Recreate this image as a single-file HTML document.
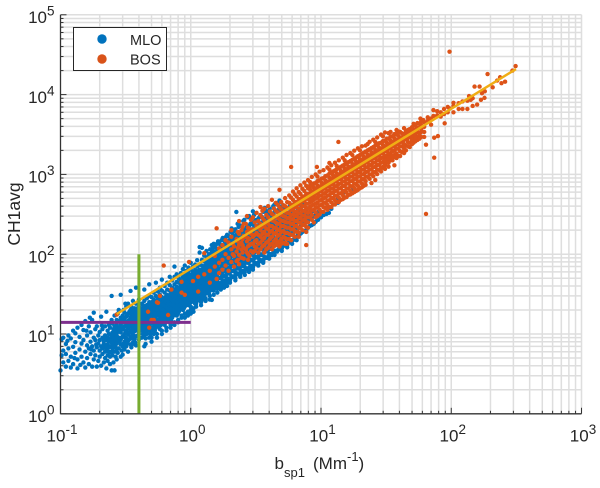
<!DOCTYPE html>
<html>
<head>
<meta charset="utf-8">
<title>CH1avg vs bsp1</title>
<style>
html,body{margin:0;padding:0;background:#fff;width:600px;height:488px;overflow:hidden}
svg{display:block}
text{font-family:"Liberation Sans",sans-serif;fill:#262626}
</style>
</head>
<body>
<svg id="chart" xmlns="http://www.w3.org/2000/svg" width="600" height="488" viewBox="0 0 600 488"></svg>
<script>
const xDecades = [-1, 0, 1, 2, 3];
const yDecades = [0, 1, 2, 3, 4, 5];
const xTickExponents = ["-1", "0", "1", "2", "3"];
const yTickExponents = ["0", "1", "2", "3", "4", "5"];
const fitX = [0.27, 314];
const fitY = [17.8, 20900];
const thresholdX = [0.4, 0.4];
const thresholdXSpan = [1, 100];
const thresholdY = [14, 14];
const thresholdYSpan = [0.1, 1];
const mloRows = [
[0.10,3.5],[0.102,5.4,8.6],[0.105,4.4,6.2,9],[0.11,3.9,5.6,7.5],[0.115,4.6,9.6,6.6],[0.12,5.2,3.8,8.8],[0.125,4.2,6.9,11],[0.13,5.8,10.2,7.9],[0.135,3.7,4.8,12],[0.14,6.4,9.2],[0.145,5.2,7.6,13],[0.15,4.4,8.4,11.2],[0.155,6,3.8,14.5],[0.16,5,7.2,9.6],[0.165,4.2,12.5,6.6],[0.168,16],[0.17,5.6,8,10.5],[0.175,3.9,7,15],[0.18,4.8,6.2,9,18.5],[0.185,5.4,8.4,11.5],[0.19,3.9,6.8,12.5],[0.195,4.6,7.6,9.6],[0.2,5.2,6.2,8.4,10.6],[0.205,4,7,16.5],[0.21,5.6,6.6,9,11.5],[0.215,4.4,7.6,8.2],[0.22,5,6,7,9.6,12.5],[0.225,3.7,6.4,8.4,19],[0.23,4.6,5.4,7.4,9,11],[0.235,6,6.8,8,10,13],[0.24,4.2,5.2,7,8.6,12],[0.247,3.5,6,7.8,9.4,15,30],[0.25,5.4,6.6,8.4,10.4,13.5],[0.255,4.4,7.2,9,11.5],[0.26,3.5,6,8,10,12.5,17],[0.265,5.2,6.8,8.8,11],[0.27,4.8,7.6,9.6,13,15],[0.275,5.8,8.2,10.6,18],[0.28,6.6,9,12,14.5,20],[0.29,5.2,7.4,8.6,10.5,13,16,31],[0.30,5.5,7,9.4,11.5,14,17],[0.31,6.4,8,10,12.5,15.5,18.5],[0.32,7,8.8,10.8,13.5,16.5,22],[0.33,6,8.2,9.8,11.8,14.5,18,24],[0.345,7.4,9.2,11,13,16,20,34.6],[0.35,6.8,8.8,10.5,12.5,15,17.5,22],[0.36,7.8,9.8,11.8,14,16.5,19,26],[0.37,8.6,10.8,13,15.5,18,21],[0.38,7.2,9.4,11.5,14,17,20,24,38],
[0.40,8.5,10,12,14,16.5,19,22,27],[0.42,9,11,13,15,17.5,20.5,24],[0.44,7,9.5,11.5,13.5,16,19,22,26,36],[0.46,10,12,14.5,17,20,23,28],[0.48,9,11,13,15.5,18,21,25,30,42],[0.50,11,13.5,16,18.5,21.5,25,29],[0.52,10,12,14.5,17,20,23,27,33],[0.54,12,14,16.5,19,22,26,30,44],[0.56,13,15,18,21,24,28,34],[0.58,11.5,14,16.5,19.5,23,27,31,38],[0.60,14,16,19,22,25,29,35,48],[0.63,13,15.5,18,21,24.5,28,33,40],[0.66,15,17,20,23,27,31,36,44],[0.69,14,17,19.5,22.5,26,30,35,41,52],[0.72,16,19,22,25,29,33,38,47],[0.75,18,21,24,27,31,36,42,52,70],[0.78,17,20,23,26,30,34,39,45,56],[0.81,19,22,25,29,33,38,44,50],[0.84,21,24,27,31,36,41,47,58],[0.87,20,23,26,30,34,39,45,52,65],[0.90,22,25,29,33,38,43,49,57,72],[0.93,24,27,31,35,40,46,53,62],[0.96,23,26,30,34,39,44,50,58,68],[1.0,25,29,33,37,42,48,55,64,78],[1.04,27,31,35,40,46,52,60,70],
[1.08,24,28,32,37,42,48,55,63,74],[1.12,26,30,35,40,46,52,60,70,84],[1.17,28,33,38,43,49,56,64,74,105,123],[1.22,27,32,37,42,48,55,62,72,85,120],[1.27,31,36,41,47,54,61,70,81,96],[1.32,33,38,44,50,57,65,74,86,110],[1.38,32,37,43,50,57,65,74,85,100],[1.45,26.7,39,45,52,60,68,78,90,105,130],[1.5,41,48,55,63,72,82,94,108,135],[1.56,38,45,52,60,68,78,89,102,120],[1.62,44,51,59,67,77,88,100,115,145],[1.69,42,50,58,66,76,86,98,112,130],[1.76,47,55,63,72,83,94,107,122,160],[1.83,45,53,62,71,81,92,105,120,140],[1.9,50,58,67,77,88,100,114,130,175],[1.98,48,57,66,76,87,99,113,128,150],[2.06,53,62,72,83,95,108,123,140,165,210],[2.15,52,61,71,82,94,107,122,138,158,195],[2.24,58,68,79,91,104,118,134,152,175,338],[2.33,56,66,77,90,103,117,133,150,172,220],[2.43,62,73,85,98,112,128,145,165,190],[2.53,60,71,83,97,112,128,146,166,195,260],[2.64,67,79,92,107,123,140,160,182,210],[2.75,65,78,91,106,122,140,160,183,215,290],[2.87,72,85,100,116,134,153,175,200,240],[3.0,70,83,98,115,133,153,175,200,235,345],[3.13,78,93,109,127,147,168,192,220,265],[3.27,76,90,107,125,145,168,192,222,260],[3.4,85,100,118,138,160,183,210,245,300],[3.55,82,98,116,136,158,182,210,245,290],[3.7,92,110,130,152,176,203,235,275,380],[3.87,90,108,128,150,175,202,235,275,330],[4.04,100,120,142,167,194,225,260,300,370],[4.2,98,118,140,165,192,223,260,305],[4.4,110,132,156,183,213,248,288,340,420],[4.6,108,130,155,182,212,247,288,345],[4.8,120,145,172,202,236,275,320,380,470],[5.0,118,143,170,200,235,274,320,385],[5.25,132,160,190,223,260,305,355],[5.5,130,158,188,222,260,305],[5.8,145,175,208,245,288,340,420],[6.1,150,185,222,262,310,370],[6.4,165,200,240,285,335],[6.8,175,215,258,305,365,480],[7.2,190,232,280,330],[7.7,200,250,300,360],[8.2,225,275,330],[8.8,240,300],[9.5,270,340],[10.5,310],[11.5,330],[12.5,420],[14.8,585],[17.6,650]
];
const mloExtraRows = [
[0.113,8.2],[0.128,5],[0.142,4.1],[0.158,11],[0.172,6.4],[0.188,7.4],[0.208,12.8],[0.222,8.9],[0.238,5.9],[0.252,7.6],[0.268,6.2,11.6],[0.285,8,11.2,12],[0.295,6.2,9,15],[0.305,7.6,12,20],[0.315,9,11,14.5,24],[0.325,7.6,10.4,13,17],[0.338,8.6,10.4,12.4,15,19],[0.355,7.4,9.4,11.2,13.5,16,21],[0.375,7.8,9.2,12,14.5,17,19.5],[0.39,9.5,11,13,15.5,18,21],
[0.41,9,11,13,15.5,18,21],[0.43,10,12,14,16.5,19,23],[0.45,8.8,10.6,12.6,15,17.5,20.5],[0.47,11,13,15.5,18.5,22],[0.49,10,12,14,16.5,19.5,23],[0.51,12,14.5,17,20,23],[0.53,11,13,15.5,18,21,25],[0.55,13,15,17.5,20.5,24],[0.57,12.5,15,18,20,23.5,26],[0.59,13,15,17.5,20.5,24,28],[0.615,15,17,20,23,27],[0.645,14,16.5,19,22,25.5,29.5],[0.675,16,18.5,21,24.5,28.5],[0.705,15,18,20.5,24,27.5,32],[0.735,17,20,23,26,30],[0.765,19,22,25.5,29,33],[0.795,18,21,24,28,32,36],[0.825,20,23,26.5,30,34.5],[0.855,22,25,29,33,38],[0.885,21,24,27.5,32,36,41],[0.915,23,26,30,34,39,45],[0.945,25,28,32,37,42],[0.98,24,27,31,35,40,46,52],[1.02,26,30,34,38,44,50],[1.06,25,29,33,38,44,50,58],[1.1,27,31,36,42,47,54],[1.145,27,32,36,41,47,54,62],[1.195,29,34,39,45,52,59],[1.245,29,34,39,45,51,58,66],[1.295,32,37,42,48,55,63,72,83],[1.35,34,40,46,53,61,69,79,92],[1.41,35,41,48,55,62,72,82,95,115],[1.475,38,44,51,58,66,76,86,98,120],[1.53,40,46,53,61,70,80,92,105,128],[1.59,40,47,55,63,72,83,94,108,135],[1.655,43,50,58,66,76,87,99,114,140],[1.725,44,52,60,69,79,90,102,118,150],[1.795,46,54,62,72,82,94,107,124,155],[1.865,47,55,64,74,85,96,110,126,165],[1.94,49,58,67,77,88,100,114,132,170],[2.02,50,60,70,80,92,105,120,136,160,190],[2.1,52,62,72,83,96,110,126,144,175],[2.2,55,65,75,87,100,113,128,146,170,205],[2.29,56,66,78,90,103,118,134,152,180,240],[2.38,58,68,80,93,107,122,140,158,185,230],[2.48,62,74,86,100,115,130,150,172,200],[2.58,62,74,87,102,118,135,153,175,205,270],[2.7,66,79,92,107,124,142,162,186,220],[2.81,68,81,96,112,128,147,168,193,228,300],[2.93,70,85,100,118,136,156,178,204,245],[3.06,74,88,104,122,140,160,184,212,250,310],[3.2,76,92,108,126,146,170,196,226,270],[3.33,80,96,112,132,153,176,202,232,285],[3.47,82,98,116,138,160,185,212,248,300],[3.62,86,104,124,145,168,194,224,262,340],[3.78,90,110,130,152,178,206,240,280,350],[3.95,95,114,136,160,186,215,248,288],[4.12,100,122,146,172,200,232,268,310],[4.3,104,125,148,175,204,236,275,322,400],[4.5,110,132,158,186,218,254,296,350],[4.7,114,138,164,194,226,262,305,360,440],[4.9,122,148,176,208,244,285,335,395],[5.12,126,152,180,212,248,290,340,410],[5.37,135,165,195,230,270,315,370],[5.65,140,170,200,236,278,325,385],[5.95,150,182,216,255,300,355],[6.25,158,192,230,272,322],[6.6,170,208,250,295,350,430],[7.0,182,225,270,318,380],[7.45,195,240,290,345,420],[7.95,215,262,315,375],[8.5,232,285,340],[9.1,255,310],[10,290],[11,320,385],[12,370],[13.5,440,500]
];
const mloLowerEdgeRows = [
[0.45,7.5],[0.5,9,8],[0.55,10,9],[0.6,11,10],[0.65,12,11],[0.7,12,13],[0.75,14,13],[0.8,15,14],[0.85,16,17],[0.9,18,16],[0.95,19,17],[1,20,18,22],[1.05,21,19],[1.1,22,24],[1.2,23,25],[1.3,26,28],[1.4,27,30],[1.5,31,35],[1.6,33,37],[1.7,36,39],[1.8,38,42],[1.9,40,44],[2,44,47],[2.2,47,50],[2.4,52,56],[2.6,55,60],[2.8,60,64],[3,64,68],[3.3,72],[3.6,78,82],[4,88,94],[4.4,98],[5,110],[5.5,122],[6,135],[6.5,150]
];
const bosRows = [
[0.27,17.5],[0.47,19],[0.48,12],[0.5,15],[0.52,15],[0.55,25],[0.56,24.6],[0.58,30],[0.62,72],[0.67,17.3],[0.71,36],[0.85,45,33],[0.9,31],[0.97,80],[1.04,46],[1.14,52,34],[1.27,103,56],[1.4,62,44],[1.53,70,95],[1.58,211,49],[1.65,118,78,58],[1.75,85,130,64],[1.85,100,72,150],[1.95,140,90,62],[2.05,115,80,165,200],[2.15,125,95,70],[2.25,155,108,82],[2.35,130,98,180,75,260],[2.45,200,140,115,90],[2.55,170,120,88,240],[2.7,145,105,190,300],[2.75,215,160,125,100,85],[2.9,180,135,110,270],
[3.0,290,205,165,135,105],[3.2,225,185,150,120,330],[3.43,240,200,165,140,115,310,390],[3.67,265,225,190,160,130,105,370],[3.93,290,240,205,175,145,120,400],[4.2,320,265,225,195,165,135,115,480],[4.5,350,295,250,215,185,155,130,440],[4.8,385,320,275,240,205,175,145,125,640],[5.15,410,350,300,260,225,195,165,140],[5.3,135],[5.5,450,380,330,285,250,215,185,155,135],[5.9,510,415,360,310,275,240,205,175,150,1240],[6.3,560,450,390,340,300,260,225,195,165],[6.6,190],[6.75,600,490,425,370,325,285,250,215,185,165],[7.2,660,530,460,400,350,305,265,230,200],[7.7,720,570,495,430,380,335,290,255,220,190,130],
[8.25,340,390,450,510,575,645,725,800,290],[8.8,360,420,480,540,610,685,770,250],[9.3,1240],[9.4,385,445,510,575,650,730,825,940,300],[10.1,415,480,545,620,700,785,885,340],[10.8,440,515,585,665,750,840,950,380],[11.6,475,550,630,710,805,905,1020,1150,390,1390],[12.4,505,590,670,760,860,965,1090,420],[13.2,540,625,715,810,915,1030,1160,1280,450],[13.6,2550],[14.2,580,675,770,870,985,1105,1245,480],[15.2,620,720,820,930,1050,1185,1335,1500,510],[16.2,665,770,875,995,1120,1260,1420,550],[17.4,710,825,940,1070,1205,1355,1525,1750,580],[18.6,760,885,1005,1140,1290,1450,1630,620],[19.9,815,945,1075,1220,1380,1550,1745,2000,670],[21.3,870,1010,1150,1310,1475,1660,1870,720],[22.8,930,1085,1235,1400,1580,1775,2000,2400],[24.4,1000,1160,1320,1495,1690,1900,2140,780],[26.1,1070,1240,1410,1600,1810,2030,2290,2550,850],[27.9,1140,1325,1510,1710,1935,2170,2450],[29.9,1225,1420,1620,1835,2070,2330,2620,3000],[30,1210,1430,1240],[32,1400,1520,1730,1960,2220,2490,2800,1600],[34.2,1500,1625,1850,2100,2370,2660,3000,3400,1700],[36.6,1650,1750,1980,2250,2540,2850,3200,1300],[38.5,1700],[39.2,1700,2100,2400,2720,3050,3450],[41.9,1900,2250,2560,2900,3270],[44.9,2000,2300,2750,3100,3500],[48,2200,2500,2950,3350,3700],[51.4,2500,2900,3150,3600,4300],[55,2700,2950,3400,3850,4400],[58,5000],[58.8,2950,3400,3700,4100,4600],[61,4800],[62,2950,3400,3950,4500],[64,2360,320],[66,5200,4700],[70,4200,5000],[73,6400,5400],[74,1620,2880],[78,6200,5500],[79,3020],[83,6000,5300],[88,5700,6600],[89,4370],[94,6000,7000],[97,34500,6700],[104,6000,7200,7900],[114,6600,7800],[122,6600,8200],[133,6600,8400],[137,9600],[141,8600],[146,7200,9000],[151,12600],[158,7500],[165,12600],[169,8600],[172,10400],[180,9100],[181,11000],[190,18100],[208,12350],[225,15000],[237,16500],[243,13900],[259,14500],[295,20000],[312,22800]
];
const bosExtraRows = [
[2.1,135,100],[2.3,190,120,85,145],[2.5,155,105,130,220],[2.65,240,115,165],[2.82,130,155,205,95],[3.1,175,145,125,250,110],[3.3,260,215,175,135,105],[3.55,285,220,180,150,125,350],[3.8,310,245,210,175,140,115],[4.05,345,270,225,190,155,130],[4.35,375,305,260,215,180,145,125],[4.65,415,335,285,240,200,170,140],[4.95,450,365,310,265,225,190,155,135],[5.3,505,400,340,295,255,220,185,160,140],[5.7,545,440,375,325,285,250,215,180,155],[6.1,610,480,415,360,315,275,240,205,175],[6.5,670,530,450,390,340,300,260,225,190],[6.95,730,570,490,425,370,325,285,245,210],[7.45,790,620,530,460,400,350,305,270,235],[7.95,850,670,570,495,430,375,330,290,250,215],[8.5,930,720,610,530,465,405,355,310,270],[9.1,1000,780,655,570,500,430,380,335,290],[9.75,1080,840,705,615,540,470,410,360,315],[10.45,1130,900,755,660,575,500,440,390,340],[11.2,1220,970,810,710,620,540,470,415,360],[12,1300,1040,870,760,665,580,505,445,390],[12.8,1400,1120,930,815,710,620,540,475,420],[13.7,1500,1200,1000,875,760,665,580,510,450],[14.7,1620,1290,1070,935,815,715,620,550,490],[15.7,1750,1380,1150,1000,875,765,665,590,520],[16.8,1850,1470,1230,1070,935,820,715,630,560],[18,1980,1580,1320,1150,1000,875,765,675,600],[19.2,2120,1690,1410,1225,1070,935,820,720,640],[20.6,2250,1800,1510,1310,1145,1000,875,770,690],[22,2300,1930,1610,1400,1225,1070,940,825,740],[23.6,2560,2060,1720,1500,1310,1145,1000,880],[25.2,2720,2200,1840,1600,1400,1225,1070,950],[27,2900,2350,1970,1710,1500,1310,1145,1010],[28.9,3150,2500,2100,1830,1600,1400,1225,1090],[31,3350,2650,2240,1960,1710,1500,1310,1170],[33,3300,2800,2390,2090,1830,1600,1400,1250],[35.4,3000,2550,2240,1960,1710,1500],[38,3600,3200,2700,2380,2100,1830,1600],[40.5,3400,2900,2550,2250,1960,1700],[43.4,3800,3200,2700,2400,2100,1850],[46.5,3600,3200,2850,2550,2250],[50,3900,3400,3050,2700,2400],[53,4100,3650,3250,2900,2600],[57,4300,3800,3200,2800]
];

const NS = "http://www.w3.org/2000/svg";
const svg = document.getElementById("chart");
const xLeft = 60.5, xDecadePx = 130.25, yBase = 413.8, yDecadePx = 79.8;
function xPx(v){ return xLeft + (Math.log10(v) + 1) * xDecadePx; }
function yPx(v){ return yBase - Math.log10(v) * yDecadePx; }
function make(tag, attrs, parent){
  const el = document.createElementNS(NS, tag);
  for (const k in attrs) el.setAttribute(k, attrs[k]);
  (parent || svg).appendChild(el);
  return el;
}
const xMin = Math.pow(10, xDecades[0]), xMax = Math.pow(10, xDecades[xDecades.length-1]);
const yMin = Math.pow(10, yDecades[0]), yMax = Math.pow(10, yDecades[yDecades.length-1]);

const gridGroup = make("g", {stroke:"#dedede","stroke-width":1.5,fill:"none"});


const tickGroup = make("g", {stroke:"#333","stroke-width":1,fill:"none"});



xDecades.forEach(function(d, i){
  const steps = i < xDecades.length-1 ? [1,2,3,4,5,6,7,8,9] : [1];
  steps.forEach(function(m){
    const x = xPx(m*Math.pow(10,d));
    if (i > 0 || m > 1) make("line",{x1:x,x2:x,y1:yPx(yMin),y2:yPx(yMax)},gridGroup);
    make("line",{x1:x,x2:x,y1:yPx(yMin),y2:yPx(yMin)-(m===1?6:3)},tickGroup);
  });
});
yDecades.forEach(function(d, i){
  const steps = i < yDecades.length-1 ? [1,2,3,4,5,6,7,8,9] : [1];
  steps.forEach(function(m){
    const y = yPx(m*Math.pow(10,d));
    if (i > 0 || m > 1) make("line",{x1:xPx(xMin),x2:xPx(xMax),y1:y,y2:y},gridGroup);
    make("line",{x1:xPx(xMin),x2:xPx(xMin)+(m===1?6:3),y1:y,y2:y},tickGroup);
  });
});

function drawSeries(rows, color, name){
  const g = make("g", {fill:color});
  
  
  rows.forEach(function(row){
    for (let i = 1; i < row.length; i++){
      const c = make("circle",{cx:xPx(row[0]),cy:yPx(row[i]),r:2.2},g);
      
      
    }
  });
}
drawSeries(mloRows.concat(mloExtraRows, mloLowerEdgeRows), "#0072bd", "mlo");
drawSeries(bosRows.concat(bosExtraRows), "#dd5318", "bos");

const purple = make("line",{x1:xPx(thresholdYSpan[0]),x2:xPx(thresholdYSpan[1]),y1:yPx(thresholdY[0]),y2:yPx(thresholdY[1]),stroke:"#7e2f8e","stroke-width":3});


const fit = make("line",{x1:xPx(fitX[0]),x2:xPx(fitX[1]),y1:yPx(fitY[0]),y2:yPx(fitY[1]),stroke:"#f0ad14","stroke-width":2.5});


const green = make("line",{x1:xPx(thresholdX[0]),x2:xPx(thresholdX[1]),y1:yPx(thresholdXSpan[0]),y2:yPx(thresholdXSpan[1]),stroke:"#77ac30","stroke-width":3});



const yAxisLine = make("line",{x1:xPx(xMin),x2:xPx(xMin),y1:yPx(yMin)+.5,y2:yPx(yMax),stroke:"#333","stroke-width":1.3});


const xAxisLine = make("line",{x1:xPx(xMin),x2:xPx(xMax),y1:yPx(yMin),y2:yPx(yMin),stroke:"#333","stroke-width":1.3});



function powerLabel(x, y, exp, anchorRight){
  const t = make("text",{"font-size":17});
  
  
  t.setAttribute("y", y);
  const base = document.createElementNS(NS,"tspan");
  base.textContent = "10";
  t.appendChild(base);
  const sup = document.createElementNS(NS,"tspan");
  sup.setAttribute("dy","-7.5");
  sup.setAttribute("font-size","13.5");
  sup.textContent = exp;
  t.appendChild(sup);
  t.setAttribute("x", x);
  t.setAttribute("text-anchor", anchorRight ? "end" : "middle");
}
yDecades.forEach(function(d,i){ powerLabel(54.5, yPx(Math.pow(10,d))+8.2, yTickExponents[i], true); });
xDecades.forEach(function(d,i){ powerLabel(xPx(Math.pow(10,d))+1.5, 441.7, xTickExponents[i], false); });

const xTitle = make("text",{x:274.5,y:469,"font-size":17});


xTitle.innerHTML = 'b<tspan dy="8" font-size="13">sp1</tspan><tspan x="313" dy="-8">(Mm</tspan><tspan dy="-8" font-size="13">-1</tspan><tspan dy="8">)</tspan>';
const yTitle = make("text",{x:0,y:0,"font-size":17.5,"text-anchor":"middle",transform:"translate(20,214) rotate(-90)"});


yTitle.textContent = "CH1avg";

const legend = make("g",{});


make("rect",{x:73.5,y:27.5,width:93,height:43,fill:"#fff",stroke:"#262626","stroke-width":1},legend);
const mk1 = make("circle",{cx:102,cy:39,r:4.7,fill:"#0072bd"},legend);


const mk2 = make("circle",{cx:102,cy:59,r:4.7,fill:"#d95319"},legend);


const t1 = make("text",{x:130,y:45,"font-size":14.5},legend);


t1.textContent = "MLO";
const t2 = make("text",{x:130,y:64.7,"font-size":14.5},legend);


t2.textContent = "BOS";
</script>
</body>
</html>
